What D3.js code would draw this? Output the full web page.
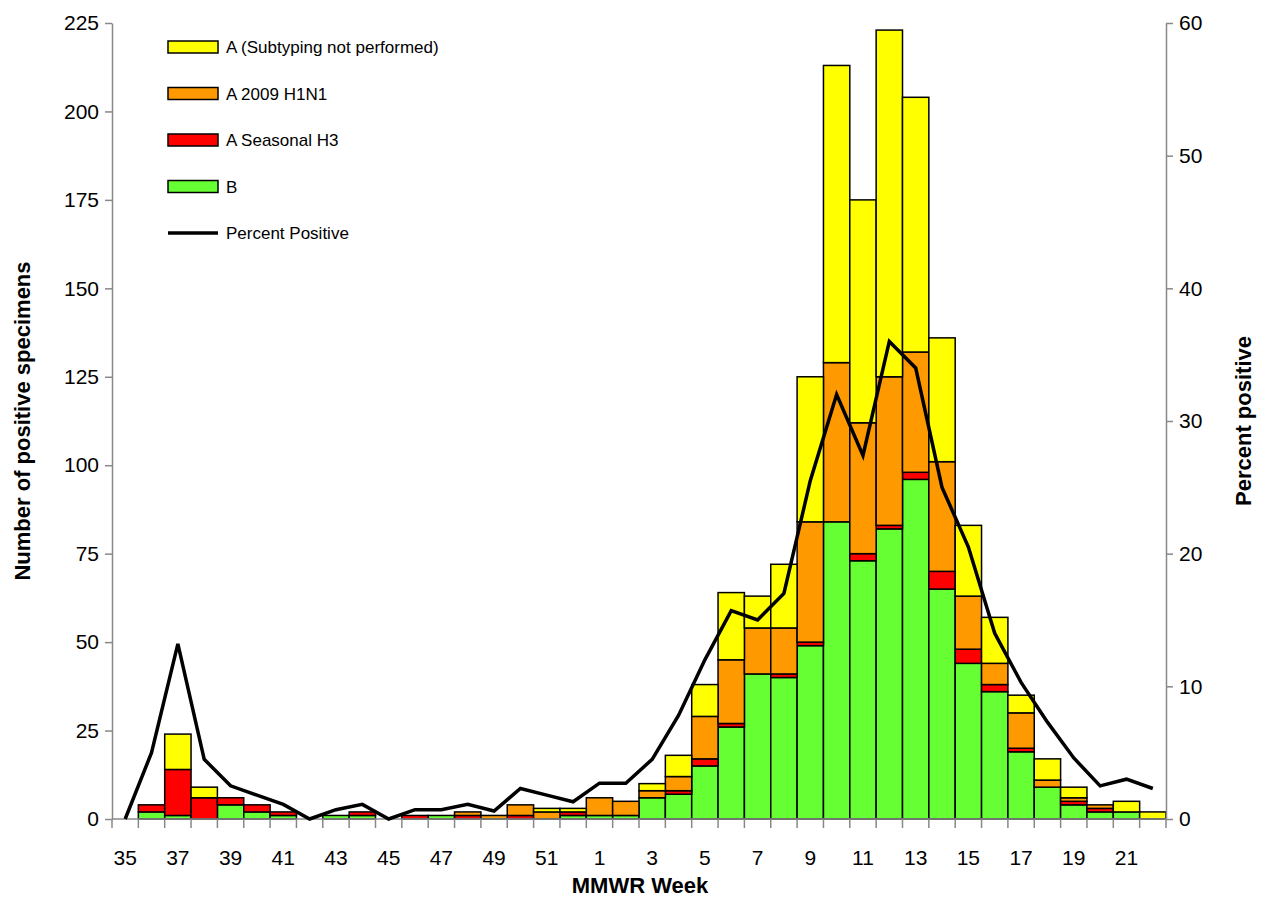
<!DOCTYPE html>
<html><head><meta charset="utf-8">
<script src="https://cdn.jsdelivr.net/npm/d3@7"></script>
<style>body{margin:0;background:#fff;font-family:"Liberation Sans",Arial,sans-serif}</style>
</head><body><svg id="c" width="1262" height="901"></svg>
<script>
const weeks=[35,36,37,38,39,40,41,42,43,44,45,46,47,48,49,50,51,52,1,2,3,4,5,6,7,8,9,10,11,12,13,14,15,16,17,18,19,20,21,22];
const B=[0,2,1,0,4,2,1,0,1,1,0,0,1,0,0,0,0,1,1,1,6,7,15,26,41,40,49,84,73,82,96,65,44,36,19,9,4,2,2,0];
const H3=[0,2,13,6,2,2,1,0,0,1,0,1,0,1,0,1,0,1,0,0,0,1,2,1,0,1,1,0,2,1,2,5,4,2,1,0,1,1,0,0];
const H1N1=[0,0,0,0,0,0,0,0,0,0,0,0,0,1,1,3,2,0,5,4,2,4,12,18,13,13,34,45,37,42,34,31,15,6,10,2,1,1,0,0];
const ANS=[0,0,10,3,0,0,0,0,0,0,0,0,0,0,0,0,1,1,0,0,2,6,9,19,9,18,41,84,63,98,72,35,20,13,5,6,3,0,3,2];
const pct=[0,5,13.2,4.5,2.5,1.8,1.1,0,0.7,1.1,0,0.7,0.7,1.1,0.6,2.3,1.8,1.3,2.7,2.7,4.5,7.8,12,15.7,15,17,25.5,32,27.4,36,34,25,20.5,14,10.3,7.3,4.6,2.5,3,2.3];
const yTicks=[0,25,50,75,100,125,150,175,200,225];
const y2Ticks=[0,10,20,30,40,50,60];
const series=[{k:"B",v:B,c:"#66ff33"},{k:"A Seasonal H3",v:H3,c:"#ff0000"},{k:"A 2009 H1N1",v:H1N1,c:"#ff9900"},{k:"A (Subtyping not performed)",v:ANS,c:"#ffff00"}];
const svg=d3.select("#c");
const L=112,R=1166,T=23,Bt=819;
const x=d3.scaleBand().domain(d3.range(weeks.length)).range([L,R]).padding(0);
const y=d3.scaleLinear().domain([0,225]).range([Bt,T]);
const y2=d3.scaleLinear().domain([0,60]).range([Bt,T]);
const stack=d3.stack().keys(series.map((s,i)=>i)).value((d,k)=>series[k].v[d]);
const st=stack(d3.range(weeks.length));
st.forEach((layer,i)=>{
  svg.append("g").selectAll("rect").data(layer.filter(d=>d[1]>d[0])).join("rect")
   .attr("x",d=>x(d.data)).attr("width",x.bandwidth())
   .attr("y",d=>y(d[1])).attr("height",d=>y(d[0])-y(d[1]))
   .attr("fill",series[i].c).attr("stroke","#000").attr("stroke-width",1.5);
});
const ax=svg.append("g").attr("transform",`translate(0,${Bt})`);
ax.append("line").attr("x1",L).attr("x2",R).attr("stroke","#888").attr("stroke-width",1.5);
d3.range(weeks.length+1).forEach(i=>{const xx=L+i*x.step();ax.append("line").attr("x1",xx).attr("x2",xx).attr("y1",0).attr("y2",9).attr("stroke","#888").attr("stroke-width",1.5);});
weeks.forEach((w,i)=>{if(i%2==0)ax.append("text").attr("x",x(i)+x.bandwidth()/2).attr("y",46).attr("text-anchor","middle").attr("font-size",21).text(w);});
const yl=svg.append("g").attr("transform",`translate(${L},0)`).call(d3.axisLeft(y).tickValues(yTicks).tickSize(7).tickSizeOuter(0));
yl.selectAll("text").attr("font-size",21).attr("font-family","Liberation Sans").attr("fill","#000").attr("dx",-3);
yl.selectAll("line,path").attr("stroke","#888").attr("stroke-width",1.5);
const yr=svg.append("g").attr("transform",`translate(${R},0)`).call(d3.axisRight(y2).tickValues(y2Ticks).tickSize(7).tickSizeOuter(0));
yr.selectAll("text").attr("font-size",21).attr("font-family","Liberation Sans").attr("fill","#000").attr("dx",3);
yr.selectAll("line,path").attr("stroke","#888").attr("stroke-width",1.5);
svg.append("path").datum(pct).attr("fill","none").attr("stroke","#000").attr("stroke-width",3.5)
 .attr("d",d3.line().x((d,i)=>x(i)+x.bandwidth()/2).y(d=>y2(d)));
svg.append("text").attr("x",640).attr("y",893).attr("text-anchor","middle").attr("font-size",22).attr("font-weight","bold").text("MMWR Week");
svg.append("text").attr("transform","translate(30,421) rotate(-90)").attr("text-anchor","middle").attr("font-size",22).attr("font-weight","bold").text("Number of positive specimens");
svg.append("text").attr("transform","translate(1251,421) rotate(-90)").attr("text-anchor","middle").attr("font-size",22).attr("font-weight","bold").text("Percent positive");
const leg=[series[3],series[2],series[1],series[0]];
leg.forEach((s,i)=>{const yy=47+i*46.5;
 svg.append("rect").attr("x",168).attr("y",yy-6).attr("width",50).attr("height",12).attr("fill",s.c).attr("stroke","#000").attr("stroke-width",1.5);
 svg.append("text").attr("x",226).attr("y",yy+6).attr("font-size",17).text(s.k);});
svg.append("line").attr("x1",168).attr("x2",218).attr("y1",233).attr("y2",233).attr("stroke","#000").attr("stroke-width",3.5);
svg.append("text").attr("x",226).attr("y",239).attr("font-size",17).text("Percent Positive");
</script></body></html>
